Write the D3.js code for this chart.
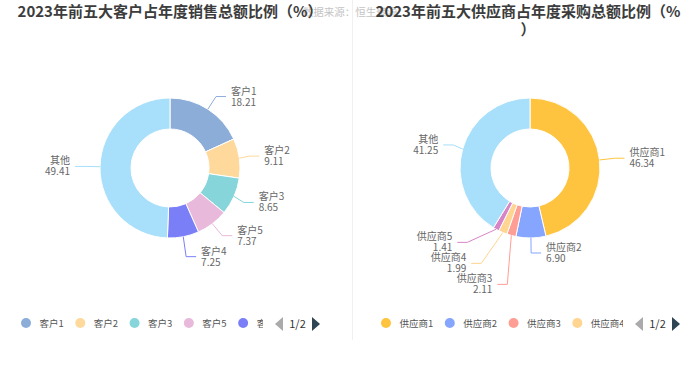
<!DOCTYPE html>
<html><head><meta charset="utf-8">
<script src="https://cdn.jsdelivr.net/npm/d3@7"></script>
<style>body{margin:0;background:#fff;} svg{display:block;}</style>
</head><body><svg id="c" width="700" height="377"></svg>
<script>
// ---------- data ----------
const customerNames = ["客户1", "客户2", "客户3", "客户5", "客户4", "其他"];
const customerShares = [18.21, 9.11, 8.65, 7.37, 7.25, 49.41];
const customerColors = ["#8dadd9", "#fed99b", "#86d5da", "#e8b9da", "#7a7ff7", "#a8dffa"];

const supplierNames = ["供应商1", "供应商2", "供应商3", "供应商4", "供应商5", "其他"];
const supplierShares = [46.34, 6.90, 2.11, 1.99, 1.41, 41.25];
const supplierColors = ["#ffc43f", "#85a5ff", "#ff9e95", "#ffd591", "#d885c8", "#a8dffa"];

const chartTitles = ["2023年前五大客户占年度销售总额比例（%）", "2023年前五大供应商占年度采购总额比例（%）"];
const sourceNote = "数据来源：恒生聚源";
const legendPageLabel = "1/2";

// ---------- drawing ----------
const FONT = "'Noto Sans CJK SC','Noto Sans',sans-serif";
const svg = d3.select("#c");
const fmt = d3.format(".2f");

// source watermark
svg.append("text").attr("x", 350).attr("y", 16).attr("text-anchor", "middle")
  .attr("font-family", FONT).attr("font-size", 10.5).attr("fill", "#c4c4c4").text(sourceNote);

// divider
svg.append("line").attr("x1", 352.5).attr("x2", 352.5).attr("y1", 0).attr("y2", 340)
  .attr("stroke", "#f0f0f0").attr("stroke-width", 1);

function drawTitle(str, cx) {
  const t = svg.append("text").attr("text-anchor", "middle").attr("font-family", FONT)
    .attr("font-size", 15).attr("font-weight", "bold").attr("fill", "#3c3c3c");
  const maxW = 310;
  const probe = t.append("tspan");
  const lines = [];
  let cur = "";
  for (const ch of str) {
    probe.text(cur + ch);
    if (probe.node().getComputedTextLength() > maxW && cur) { lines.push(cur); cur = ch; }
    else cur += ch;
  }
  lines.push(cur);
  probe.remove();
  lines.forEach((l, i) => t.append("tspan").attr("x", cx).attr("y", 17 + i * 18).text(l));
}

function layoutLabels(arcs, cx, cy, R) {
  const len = 15, len2 = 10, dist = 5, h = 21;
  const items = arcs.map((a, i) => {
    const m = (a.startAngle + a.endAngle) / 2;
    const nx = Math.sin(m), ny = -Math.cos(m);
    const x1 = cx + R * nx, y1 = cy + R * ny;
    const x2 = cx + (R + len) * nx, y2 = cy + (R + len) * ny;
    const dir = nx < 0 ? -1 : 1;
    const x3 = x2 + dir * len2;
    return { i, dir, x1, y1, x2, y2, x3, lx: x3 + dir * dist, ly: y2, len, len2 };
  });
  [-1, 1].forEach(dir => {
    const list = items.filter(d => d.dir === dir).sort((a, b) => a.ly - b.ly);
    if (list.length < 2) return;
    let last = -Infinity, adjusted = false;
    list.forEach(d => {
      const top = d.ly - h / 2;
      if (top < last) { d.ly += last - top; adjusted = true; }
      last = d.ly + h / 2;
    });
    if (!adjusted) return;
    const semis = [{ list: [], maxY: 0 }, { list: [], maxY: 0 }];
    list.forEach(d => {
      const s = d.ly > cy ? semis[1] : semis[0];
      const dy = Math.abs(d.ly - cy);
      if (dy >= s.maxY) {
        const dx = d.lx - cx - d.len2 * dir;
        const rA = R + d.len;
        s.rB = Math.abs(dx) < rA ? Math.sqrt(dy * dy / (1 - dx * dx / rA / rA)) : rA;
        s.maxY = dy;
      }
      s.list.push(d);
    });
    semis.forEach(s => s.list.forEach(d => {
      const dy = Math.abs(d.ly - cy), rA = R + d.len;
      const ex = Math.sqrt(Math.max(0, 1 - dy * dy / (s.rB * s.rB)) * rA * rA);
      d.lx = cx + (ex + d.len2) * dir;
    }));
    list.forEach(d => {
      d.x3 = d.lx - dir * dist;
      d.x2 = d.x3 - dir * d.len2;
      d.y2 = d.ly;
    });
  });
  return items;
}

function drawDonut(cx, cy, names, values, colors) {
  const R = 70, r0 = 39;
  const g = svg.append("g");
  const arcs = d3.pie().sort(null).value(d => d)(values);
  const arc = d3.arc().innerRadius(r0).outerRadius(R);
  g.selectAll("path.s").data(arcs).join("path").attr("class", "s")
    .attr("transform", `translate(${cx},${cy})`)
    .attr("d", arc).attr("fill", (d, i) => colors[i])
    .attr("stroke", "#fff").attr("stroke-width", 1);
  const labels = layoutLabels(arcs, cx, cy, R);
  labels.forEach(d => {
    g.append("polyline")
      .attr("points", [[d.x1, d.y1], [d.x2, d.y2], [d.x3, d.y2]].map(p => p.join(",")).join(" "))
      .attr("fill", "none").attr("stroke", colors[d.i]).attr("stroke-width", 1);
    const t = g.append("text").attr("font-family", FONT).attr("font-size", 10)
      .attr("fill", "#666").attr("text-anchor", d.dir < 0 ? "end" : "start");
    t.append("tspan").attr("x", d.lx).attr("y", d.ly - 2).text(names[d.i]);
    t.append("tspan").attr("x", d.lx).attr("y", d.ly + 9).text(fmt(values[d.i]));
  });
}

let clipId = 0;
function drawLegend(cx, names, colors) {
  const totalW = 299, start = cx - totalW / 2, y = 323, clipW = 242;
  const clipEnd = start + clipW;
  const id = "lc" + (clipId++);
  svg.append("clipPath").attr("id", id).append("rect")
    .attr("x", start - 2).attr("y", y - 12).attr("width", clipW + 2).attr("height", 24);
  const g = svg.append("g").attr("clip-path", `url(#${id})`);
  let x = start + 5;
  names.forEach((n, i) => {
    if (x - 5 >= clipEnd) return; // item lies on the next legend page
    g.append("circle").attr("cx", x).attr("cy", y).attr("r", 5).attr("fill", colors[i]);
    const t = g.append("text").attr("x", x + 13.5).attr("y", y + 3.5).attr("font-family", FONT)
      .attr("font-size", 9.5).attr("fill", "#555").text(n);
    x = x + 13.5 + t.node().getComputedTextLength() + 16.5;
  });
  const ax = start + 254;
  svg.append("path").attr("d", `M${ax},${y + 1}L${ax + 8},${y - 6}L${ax + 8},${y + 8}Z`).attr("fill", "#aaa");
  svg.append("text").attr("x", ax + 22.5).attr("y", y + 4.5).attr("text-anchor", "middle")
    .attr("font-family", FONT).attr("font-size", 11).attr("fill", "#333").text(legendPageLabel);
  const bx = start + 291;
  svg.append("path").attr("d", `M${bx},${y - 6}L${bx + 8},${y + 1}L${bx},${y + 8}Z`).attr("fill", "#2f4554");
}

drawTitle(chartTitles[0], 170);
drawTitle(chartTitles[1], 528);
drawDonut(170, 168, customerNames, customerShares, customerColors);
drawDonut(530, 168, supplierNames, supplierShares, supplierColors);
drawLegend(170.5, customerNames, customerColors);
drawLegend(530.5, supplierNames, supplierColors);
</script></body></html>
